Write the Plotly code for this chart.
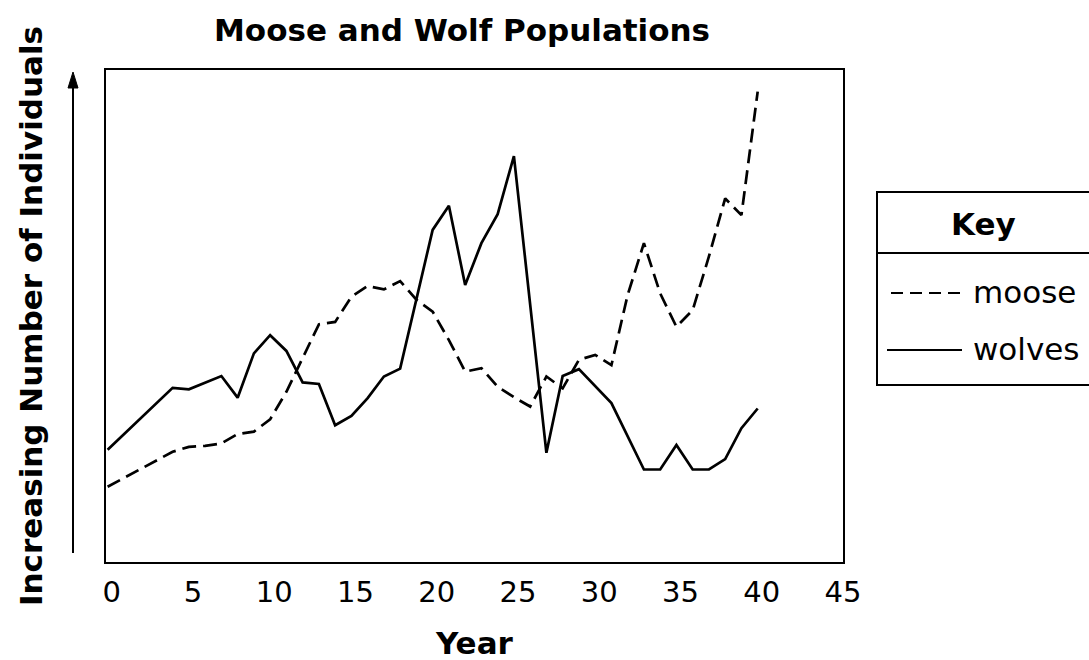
import plotly.graph_objects as go

# ---- data (relative population index) ----
moose_years = list(range(0, 41))
moose_values = [15.3, 17.1, 18.8, 20.7, 22.4, 23.4, 23.6, 24.1, 26.0, 26.5,
                29.0, 34.6, 41.4, 48.3, 48.8, 53.9, 56.1, 55.4, 57.1, 53.3,
                50.9, 45.1, 38.7, 39.4, 35.6, 33.5, 31.6, 37.7, 35.3, 41.1,
                42.1, 40.0, 54.3, 64.8, 54.6, 47.8, 51.2, 62.1, 73.9, 70.5,
                95.6]

wolf_years = [0, 4, 5, 7, 8, 9, 10, 11, 12, 13, 14, 15, 16, 17, 18, 20, 21,
              22, 23, 24, 25, 27, 28, 29, 31, 33, 34, 35, 36, 37, 38, 39, 40]
wolf_values = [22.8, 35.4, 35.1, 37.8, 33.4, 42.4, 46.1, 42.9, 36.5, 36.2,
               27.8, 29.7, 33.3, 37.7, 39.3, 67.5, 72.4, 56.3, 64.8, 70.7,
               82.5, 22.2, 37.8, 39.2, 32.3, 18.8, 18.8, 23.8, 18.8, 18.8,
               20.9, 27.2, 31.2]

x_ticks = [0, 5, 10, 15, 20, 25, 30, 35, 40, 45]

FONT = "DejaVu Sans"

fig = go.Figure()
fig.add_trace(go.Scatter(x=moose_years, y=moose_values, mode="lines", name="moose",
                         line=dict(color="black", width=2.7, dash="14px,7px")))
fig.add_trace(go.Scatter(x=wolf_years, y=wolf_values, mode="lines", name="wolves",
                         line=dict(color="black", width=2.7)))

W, H = 1089, 660
L, R, T, B = 106, 843, 70, 562
pw, ph = R - L, B - T

def px(xp):
    return (xp - L) / pw

def py(yp):
    return (B - yp) / ph

shapes = []
# legend box
shapes.append(dict(type="rect", xref="paper", yref="paper",
                   x0=px(877), x1=px(1120), y0=py(385), y1=py(192),
                   line=dict(color="black", width=2), fillcolor="white", layer="above"))
shapes.append(dict(type="line", xref="paper", yref="paper",
                   x0=px(877), x1=px(1120), y0=py(253), y1=py(253),
                   line=dict(color="black", width=2)))
shapes.append(dict(type="line", xref="paper", yref="paper",
                   x0=px(891), x1=px(962), y0=py(293), y1=py(293),
                   line=dict(color="black", width=2, dash="12px,7px")))
shapes.append(dict(type="line", xref="paper", yref="paper",
                   x0=px(887), x1=px(962), y0=py(350), y1=py(350),
                   line=dict(color="black", width=2)))
# vertical arrow shaft
shapes.append(dict(type="line", xref="paper", yref="paper",
                   x0=px(73), x1=px(73), y0=py(553), y1=py(85),
                   line=dict(color="black", width=2)))
# arrow head
shapes.append(dict(type="path", xref="paper", yref="paper",
                   path=f"M {px(68)},{py(88)} L {px(73)},{py(72)} L {px(78)},{py(88)} Z",
                   fillcolor="black", line=dict(color="black", width=1)))

BIG = 31
annotations = [
    dict(text="<b>Moose and Wolf Populations</b>", xref="paper", yref="paper",
         x=px(461.5), y=py(30), showarrow=False, xanchor="center", yanchor="middle",
         font=dict(family=FONT, size=BIG, color="black")),
    dict(text="<b>Year</b>", xref="paper", yref="paper",
         x=px(474), y=py(643), showarrow=False, xanchor="center", yanchor="middle",
         font=dict(family=FONT, size=BIG, color="black")),
    dict(text="<b>Increasing Number of Individuals</b>", xref="paper", yref="paper",
         x=px(31), y=py(316), showarrow=False, xanchor="center", yanchor="middle",
         textangle=-90, font=dict(family=FONT, size=BIG, color="black")),
    dict(text="<b>Key</b>", xref="paper", yref="paper",
         x=px(984), y=py(224), showarrow=False, xanchor="center", yanchor="middle",
         font=dict(family=FONT, size=BIG, color="black")),
    dict(text="moose", xref="paper", yref="paper",
         x=px(971), y=py(292), showarrow=False, xanchor="left", yanchor="middle",
         font=dict(family=FONT, size=BIG, color="black")),
    dict(text="wolves", xref="paper", yref="paper",
         x=px(971), y=py(349), showarrow=False, xanchor="left", yanchor="middle",
         font=dict(family=FONT, size=BIG, color="black")),
]

fig.update_layout(
    width=W, height=H,
    margin=dict(l=L, r=W - R, t=T, b=H - B),
    paper_bgcolor="white", plot_bgcolor="white",
    showlegend=False,
    shapes=shapes, annotations=annotations,
    xaxis=dict(range=[-0.1, 45.25], tickvals=x_ticks, ticktext=[str(v) for v in x_ticks],
               showgrid=False, zeroline=False, showline=True, mirror=True,
               linecolor="black", linewidth=2, ticks="", ticklabelstandoff=3,
               ticklabelshift=4,
               tickfont=dict(family=FONT, size=29, color="black")),
    yaxis=dict(range=[0, 100], showticklabels=False, showgrid=False, zeroline=False,
               showline=True, mirror=True, linecolor="black", linewidth=2, ticks=""),
)

fig.write_html("out.html", config={"displayModeBar": False},
               post_script="document.body.style.margin='0';")
